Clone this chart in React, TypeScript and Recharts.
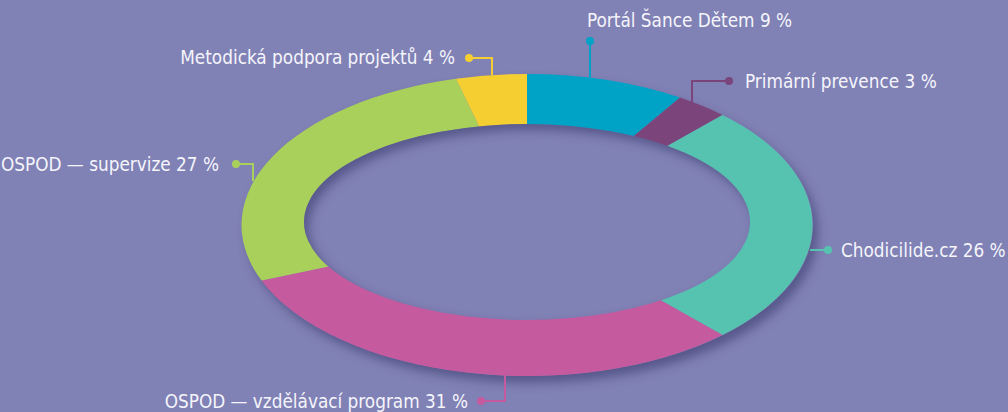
import { PieChart, Pie, Cell } from "recharts";

const names = [
  "Portál Šance Dětem",
  "Primární prevence",
  "Chodicilide.cz",
  "OSPOD — vzdělávací program",
  "OSPOD — supervize",
  "Metodická podpora projektů",
];
const shares = [9, 3, 26, 31, 27, 4];

const COLORS = ["#00a2c6", "#7b447a", "#55c3b0", "#c65a9f", "#a9d05a", "#f5cf32"];

const data = names.map((name, i) => ({ name, value: shares[i] }));

// ellipse geometry (screen px)
const CX = 527;
const CY = 225;
const RX = 285.5;
const RY = 151;
const K = RY / RX; // vertical squash
const CHART_H = 412 / K;
const TEXT_SQUEEZE = 0.94;

// leader lines: polyline points in screen px, last point gets the dot
const LEADERS = [
  { pts: [[590, 88], [590, 41]], tx: 587, ty: 20, anchor: "start" },
  { pts: [[692, 104], [692, 81], [729, 81]], tx: 745, ty: 81, anchor: "start" },
  { pts: [[810, 250], [828, 250]], tx: 841, ty: 250, anchor: "start" },
  { pts: [[505, 374], [505, 401], [481, 401]], tx: 468, ty: 401, anchor: "end" },
  { pts: [[253, 181], [253, 164], [236, 164]], tx: 219, ty: 164, anchor: "end" },
  { pts: [[492, 75], [492, 58], [469, 58]], tx: 455, ty: 57, anchor: "end" },
];

const renderLabel = (props: any) => {
  const { index, name, value } = props;
  const l = LEADERS[index];
  const last = l.pts[l.pts.length - 1];
  return (
    <g transform={`scale(1 ${1 / K})`}>
      <polyline
        points={l.pts.map((p) => p.join(",")).join(" ")}
        fill="none"
        stroke={COLORS[index]}
        strokeWidth={2}
      />
      <circle cx={last[0]} cy={last[1]} r={4} fill={COLORS[index]} />
      <g transform={`translate(${l.tx} ${l.ty}) scale(${TEXT_SQUEEZE} 1)`}>
        <text
          x={0}
          y={0}
          fill="#f5f5fb"
          fontSize={20}
          fontFamily="'DejaVu Sans Condensed', 'DejaVu Sans', sans-serif"
          textAnchor={l.anchor}
          dominantBaseline="central"
        >
          {name} {value} %
        </text>
      </g>
    </g>
  );
};

export default function App() {
  return (
    <div
      style={{
        position: "absolute",
        left: 0,
        top: 0,
        width: 1008,
        height: 412,
        background: "#8081b5",
        overflow: "hidden",
      }}
    >
      {/* drop shadow under the ring */}
      <div
        style={{
          position: "absolute",
          left: CX - RX,
          top: CY - RY,
          width: RX * 2,
          height: RY * 2,
          borderRadius: "50%",
          boxShadow: "5px 7px 10px rgba(55,55,105,0.55)",
        }}
      />
      <div
        style={{
          position: "absolute",
          left: 0,
          top: 0,
          width: 1008,
          height: CHART_H,
          transform: `scaleY(${K})`,
          transformOrigin: "0 0",
        }}
      >
        <PieChart width={1008} height={CHART_H} margin={{ top: 0, right: 0, bottom: 0, left: 0 }}>
          <Pie
            data={data}
            dataKey="value"
            nameKey="name"
            cx={CX}
            cy={CY / K}
            outerRadius={RX}
            innerRadius={120}
            startAngle={90}
            endAngle={-270}
            stroke="none"
            labelLine={false}
            label={renderLabel}
            isAnimationActive={false}
          >
            {data.map((entry, index) => (
              <Cell key={`cell-${index}`} fill={COLORS[index]} />
            ))}
          </Pie>
        </PieChart>
      </div>
      {/* hole */}
      <div
        style={{
          position: "absolute",
          left: 304,
          top: 124,
          width: 446,
          height: 196,
          borderRadius: "50%",
          background: "#8081b5",
          boxShadow: "inset 5px 6px 10px rgba(55,55,105,0.55)",
        }}
      />
    </div>
  );
}
